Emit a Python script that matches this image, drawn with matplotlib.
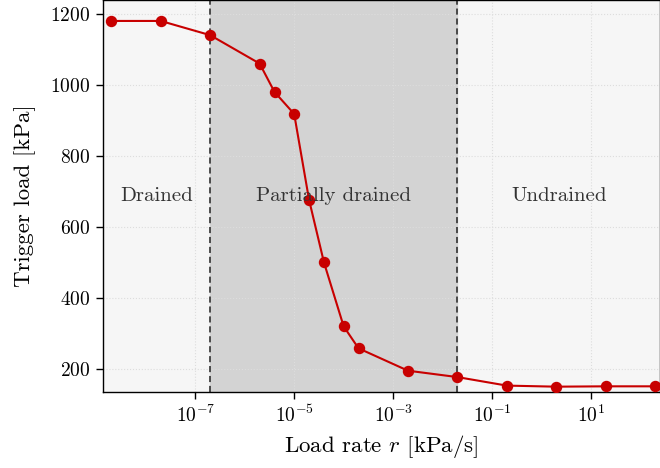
import matplotlib
matplotlib.use("Agg")
import matplotlib.pyplot as plt
import matplotlib.ticker as mticker
import numpy as np

plt.rcParams['font.family'] = 'serif'
plt.rcParams['font.serif'] = ['cmr10', 'DejaVu Serif']
plt.rcParams['mathtext.fontset'] = 'cm'
plt.rcParams['axes.formatter.use_mathtext'] = True

load_rate = [2e-9, 2e-8, 2e-7, 2e-6, 4e-6, 1e-5, 2e-5, 4e-5, 1e-4, 2e-4,
             2e-3, 2e-2, 2e-1, 2e0, 2e1, 2e2]
trigger_load = [1180, 1180, 1140, 1060, 980, 918, 676, 500, 320, 258,
                195, 177, 153, 150, 151, 151]
regime_bounds = [2e-7, 2e-2]
regime_labels = ["Drained", "Partially drained", "Undrained"]
x_limits = (1.36e-9, 2.5e2)
y_limits = (135, 1239)
y_ticks = [200, 400, 600, 800, 1000, 1200]
x_ticks = [1e-7, 1e-5, 1e-3, 1e-1, 1e1]

fig = plt.figure(figsize=(6.6, 4.68), dpi=100)
ax = fig.add_axes([103/660, 76/468, 557/660, 392/468])
ax.set_xscale('log')
ax.set_xlim(*x_limits)
ax.set_ylim(*y_limits)
ax.set_facecolor('#f6f6f6')

ax.axvspan(regime_bounds[0], regime_bounds[1], color='#d3d3d3', zorder=0)
for b in regime_bounds:
    ax.axvline(b, color='#222222', ls=(0, (4, 2.5)), lw=1.1, zorder=2)

ax.grid(True, which='major', color='#dddddd', ls=':', lw=0.8, zorder=1)
ax.set_axisbelow(True)

ax.plot(load_rate, trigger_load, color='#c80000', lw=1.5, marker='o',
        markersize=7.2, zorder=3)

edges = [x_limits[0], regime_bounds[0], regime_bounds[1], x_limits[1]]
for i, lab in enumerate(regime_labels):
    xc = np.sqrt(edges[i] * edges[i + 1])
    ax.text(xc, 688, lab, ha='center', va='center', fontsize=15, color='#333333', zorder=4)

ax.set_xticks(x_ticks)
ax.xaxis.set_minor_locator(mticker.NullLocator())
ax.set_yticks(y_ticks)
ax.tick_params(axis='both', which='major', labelsize=14, direction='out', length=5, width=1, color='black', pad=4)
for s in ax.spines.values():
    s.set_color('black')
    s.set_linewidth(1.0)

ax.set_xlabel('Load rate $r$ [kPa/s]', fontsize=16.5, labelpad=5)
ax.set_ylabel('Trigger load [kPa]', fontsize=16.5, labelpad=10)

fig.savefig('out.png', dpi=100)
